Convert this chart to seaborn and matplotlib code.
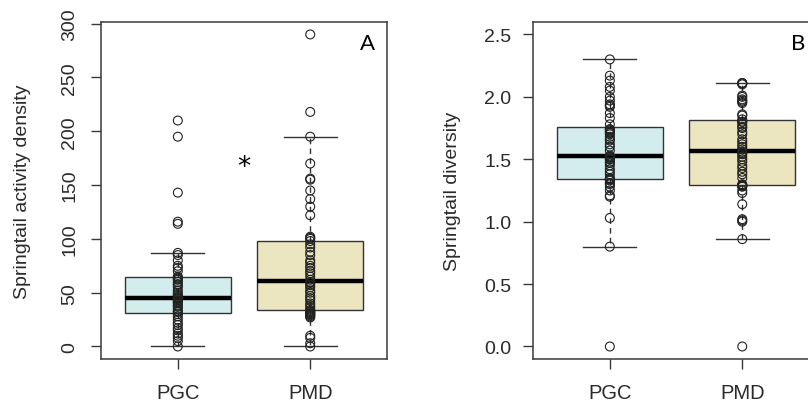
import numpy as np
import pandas as pd
import seaborn as sns
import matplotlib.pyplot as plt

groups = ["PGC", "PMD"]
colors = ["#d3ecee", "#ece6c0"]

# springtail activity density (panel A)
dens_pgc = [0, 5, 8, 10, 12, 15, 17, 20, 22, 25, 28, 30, 32, 33, 35, 37, 38, 40, 41, 42,
            43, 44, 45, 45, 46, 47, 48, 50, 52, 55, 57, 58, 60, 62, 63, 64, 65, 70, 73, 75,
            80, 85, 87, 114, 116, 143, 195, 210]
dens_pmd = [0, 3, 8, 10, 27, 28, 29, 30, 30, 31, 32, 32, 33, 34, 36, 38, 40, 43, 45, 47,
            50, 52, 55, 57, 59, 60, 62, 65, 68, 70, 73, 75, 78, 80, 85, 88, 92, 95, 98, 100,
            101, 102, 122, 130, 137, 145, 155, 156, 170, 195, 218, 290]

# springtail diversity (panel B)
div_pgc = [0.0, 0.80, 1.03, 1.20, 1.21, 1.25, 1.28, 1.30, 1.31, 1.33, 1.34, 1.34, 1.34, 1.35,
           1.38, 1.40, 1.42, 1.45, 1.47, 1.48, 1.50, 1.50, 1.51, 1.52, 1.52, 1.53, 1.57, 1.60,
           1.62, 1.65, 1.66, 1.68, 1.70, 1.71, 1.72, 1.73, 1.74, 1.74, 1.78, 1.83, 1.87, 1.92,
           1.93, 1.94, 1.97, 2.00, 2.05, 2.08, 2.13, 2.17, 2.30]
div_pmd = [0.0, 0.86, 1.00, 1.01, 1.02, 1.14, 1.23, 1.25, 1.28, 1.29, 1.29, 1.29, 1.29, 1.30,
           1.35, 1.38, 1.40, 1.43, 1.45, 1.48, 1.50, 1.52, 1.54, 1.55, 1.56, 1.58, 1.60, 1.62,
           1.64, 1.66, 1.70, 1.72, 1.75, 1.76, 1.78, 1.80, 1.80, 1.82, 1.85, 1.86, 1.95, 1.96,
           1.97, 1.98, 2.00, 2.01, 2.10, 2.11, 2.11, 2.11]

df_a = pd.DataFrame({"site": ["PGC"] * len(dens_pgc) + ["PMD"] * len(dens_pmd),
                     "value": dens_pgc + dens_pmd})
df_b = pd.DataFrame({"site": ["PGC"] * len(div_pgc) + ["PMD"] * len(div_pmd),
                     "value": div_pgc + div_pmd})

plt.rcParams["font.family"] = ["Liberation Sans", "DejaVu Sans"]
plt.rcParams["font.size"] = 14
axcol = "#3a3a3a"

fig = plt.figure(figsize=(8.08, 4.10), dpi=100)
ax1 = fig.add_axes([0.125, 0.122, 0.354, 0.822])
ax2 = fig.add_axes([0.6597, 0.122, 0.354, 0.822])


def draw(ax, df):
    sns.boxplot(data=df, x="site", y="value", hue="site", order=groups, hue_order=groups,
                palette=colors, saturation=1, legend=False, width=0.8, showfliers=False, ax=ax,
                linecolor="#333333", linewidth=1.0,
                whiskerprops=dict(linestyle=(0, (4, 3))),
                medianprops=dict(color="black", linewidth=3.2))
    sns.stripplot(data=df, x="site", y="value", order=groups, jitter=False, size=6.4,
                  color="#222222", linewidth=0.8, edgecolor="#222222", ax=ax, zorder=5)
    for coll in ax.collections:
        coll.set_facecolor("none")
        coll.set_edgecolor("#222222")
    ax.set_xlim(-0.58, 1.58)
    ax.set_xlabel("")
    for s in ax.spines.values():
        s.set_visible(True)
        s.set_color(axcol)
        s.set_linewidth(1.1)
    ax.tick_params(axis="both", direction="out", length=7.5, width=1.0, color=axcol,
                   labelcolor="#2a2a2a", labelsize=14)
    ax.tick_params(axis="x", pad=10, labelsize=14.5)


draw(ax1, df_a)
ax1.set_ylim(-11.6, 301.6)
ax1.set_yticks([0, 50, 100, 150, 200, 250, 300])
ax1.tick_params(axis="y", labelrotation=90, pad=9)
for lab in ax1.get_yticklabels():
    lab.set_va("center")
ax1.set_ylabel("Springtail activity density", fontsize=14, color="#2a2a2a")
ax1.yaxis.set_label_coords(-0.276, 0.5)
ax1.yaxis.label.set_va("center")
ax1.text(0.93, 0.938, "A", transform=ax1.transAxes, ha="center", va="center",
         fontsize=16, family=["Lato", "DejaVu Sans"])
ax1.text(0.5, 160, "*", ha="center", va="baseline", fontsize=19,
         family=["DejaVu Sans"])

draw(ax2, df_b)
ax2.set_ylim(-0.1, 2.6)
ax2.set_yticks([0, 0.5, 1.0, 1.5, 2.0, 2.5])
ax2.set_yticklabels(["0.0", "0.5", "1.0", "1.5", "2.0", "2.5"])
ax2.tick_params(axis="y", pad=8)
ax2.set_ylabel("Springtail diversity", fontsize=14, color="#2a2a2a")
ax2.yaxis.set_label_coords(-0.28, 0.5)
ax2.yaxis.label.set_va("center")
ax2.text(0.927, 0.938, "B", transform=ax2.transAxes, ha="center", va="center",
         fontsize=16, family=["Lato", "DejaVu Sans"])

fig.savefig("out.png", dpi=100)
